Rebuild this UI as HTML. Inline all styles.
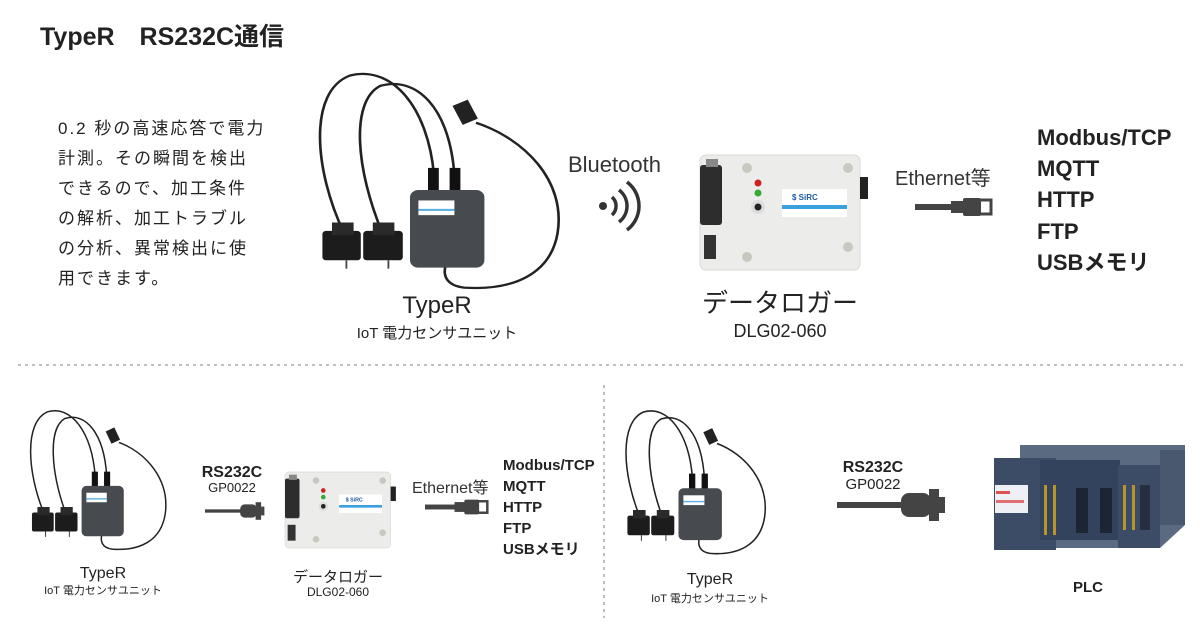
<!DOCTYPE html>
<html><head><meta charset="utf-8"><style>
html,body{margin:0;padding:0;background:#fff}
svg{display:block}
text{font-family:"Liberation Sans","Noto Sans CJK JP",sans-serif;fill:#222}
</style></head><body>
<svg width="1202" height="626" viewBox="0 0 1202 626" xmlns="http://www.w3.org/2000/svg">
<defs>
<g id="typer">
  <path d="M115 105 C110 40 80 0 45 10 C10 25 15 100 40 160" fill="none" stroke="#222" stroke-width="2.2"/>
  <path d="M132 105 C128 40 100 10 70 20 C45 35 50 100 72 160" fill="none" stroke="#222" stroke-width="2.2"/>
  <path d="M150 55 C190 70 225 110 218 160 C212 200 180 215 140 212 C125 210 122 200 125 190" fill="none" stroke="#222" stroke-width="2.2"/>
  <rect x="134" y="35" width="14" height="20" fill="#222" transform="rotate(-25 141 45)"/>
  <rect x="110" y="98" width="9" height="22" fill="#111"/>
  <rect x="128" y="98" width="9" height="22" fill="#111"/>
  <rect x="95" y="119" width="62" height="74" rx="7" fill="#474a4e"/>
  <rect x="102" y="129" width="30" height="14" fill="#fff"/>
  <rect x="102" y="137" width="30" height="2" fill="#5ab0e0"/>
  <rect x="22" y="158" width="32" height="28" rx="3" fill="#1c1c1c"/>
  <rect x="56" y="158" width="33" height="28" rx="3" fill="#1c1c1c"/>
  <rect x="30" y="150" width="18" height="12" fill="#2a2a2a"/>
  <rect x="64" y="150" width="18" height="12" fill="#2a2a2a"/>
  <line x1="42" y1="186" x2="42" y2="194" stroke="#444" stroke-width="1.5"/>
  <line x1="77" y1="186" x2="77" y2="194" stroke="#444" stroke-width="1.5"/>
</g>
<g id="logger">
  <rect x="0" y="0" width="160" height="115" rx="6" fill="#ecedea"/>
  <rect x="0" y="0" width="160" height="115" rx="6" fill="none" stroke="#d8d8d4"/>
  <rect x="0" y="10" width="22" height="60" rx="3" fill="#2d2d2d"/>
  <rect x="6" y="4" width="12" height="8" fill="#888"/>
  <rect x="4" y="80" width="12" height="24" fill="#333"/>
  <rect x="160" y="22" width="8" height="22" fill="#222"/>
  <circle cx="47" cy="13" r="5" fill="#c8c8c0"/><circle cx="148" cy="13" r="5" fill="#c8c8c0"/>
  <circle cx="47" cy="102" r="5" fill="#c8c8c0"/><circle cx="148" cy="92" r="5" fill="#c8c8c0"/>
  <circle cx="58" cy="28" r="3.5" fill="#c22"/><circle cx="58" cy="38" r="3.5" fill="#3a3"/>
  <circle cx="58" cy="52" r="7" fill="#ddd"/><circle cx="58" cy="52" r="3.5" fill="#222"/>
  <rect x="82" y="34" width="65" height="28" fill="#fff"/>
  <rect x="82" y="50" width="65" height="4" fill="#3aa0e0"/>
  <text x="92" y="45" font-size="8" font-weight="bold" style="fill:#1a5aa0">$ SiRC</text>
</g>
<g id="eth">
  <rect x="0" y="-3" width="38" height="6" fill="#444"/>
  <rect x="36" y="-6" width="14" height="12" fill="#444"/>
  <rect x="48" y="-9" width="18" height="18" rx="2" fill="#444"/>
  <rect x="64" y="-7" width="12" height="14" fill="none" stroke="#444" stroke-width="3"/>
</g>
<g id="rs">
  <rect x="0" y="-3" width="65" height="6" fill="#444"/>
  <rect x="64" y="-12" width="30" height="24" rx="8" fill="#444"/>
  <rect x="92" y="-16" width="10" height="32" fill="#444"/>
  <rect x="102" y="-8" width="6" height="16" fill="#444"/>
</g>
</defs>

<text x="40" y="45" font-size="25" font-weight="bold">TypeR　RS232C通信</text>

<g font-size="17" letter-spacing="2">
<text x="58" y="134">0.2 秒の高速応答で電力</text>
<text x="58" y="164">計測。その瞬間を検出</text>
<text x="58" y="194">できるので、加工条件</text>
<text x="58" y="224">の解析、加工トラブル</text>
<text x="58" y="254">の分析、異常検出に使</text>
<text x="58" y="284">用できます。</text>
</g>

<use href="#typer" transform="translate(296 65) scale(1.2 1.05)"/>
<text x="437" y="313" font-size="24" text-anchor="middle">TypeR</text>
<text x="437" y="338" font-size="15" text-anchor="middle">IoT 電力センサユニット</text>

<text x="568" y="172" font-size="22" style="fill:#333">Bluetooth</text>
<circle cx="603" cy="206" r="4" fill="#333"/>
<path d="M612 197 A12 12 0 0 1 612 215" fill="none" stroke="#333" stroke-width="3.5"/>
<path d="M619 190 A20 20 0 0 1 619 222" fill="none" stroke="#333" stroke-width="3.5"/>
<path d="M627 182 A30 30 0 0 1 627 230" fill="none" stroke="#333" stroke-width="3.5"/>

<use href="#logger" transform="translate(700 155)"/>
<text x="780" y="312" font-size="26" text-anchor="middle">データロガー</text>
<text x="780" y="337" font-size="18" text-anchor="middle">DLG02-060</text>

<text x="895" y="185" font-size="20" style="fill:#333">Ethernet等</text>
<use href="#eth" transform="translate(915 207)"/>

<g font-size="22" font-weight="bold">
<text x="1037" y="145">Modbus/TCP</text>
<text x="1037" y="176">MQTT</text>
<text x="1037" y="207">HTTP</text>
<text x="1037" y="239">FTP</text>
<text x="1037" y="270">USBメモリ</text>
</g>

<line x1="18" y1="365" x2="1186" y2="365" stroke="#aaa" stroke-width="1.5" stroke-dasharray="3 4"/>
<line x1="604" y1="385" x2="604" y2="618" stroke="#aaa" stroke-width="1.5" stroke-dasharray="3 4"/>

<use href="#typer" transform="translate(17 405) scale(0.68)"/>
<text x="103" y="578" font-size="16" text-anchor="middle">TypeR</text>
<text x="103" y="594" font-size="11" text-anchor="middle">IoT 電力センサユニット</text>

<text x="232" y="477" font-size="16" font-weight="bold" text-anchor="middle">RS232C</text>
<text x="232" y="492" font-size="13" text-anchor="middle">GP0022</text>
<use href="#rs" transform="translate(205 511) scale(0.55)"/>

<use href="#logger" transform="translate(285 472) scale(0.66)"/>
<text x="338" y="582" font-size="15" text-anchor="middle">データロガー</text>
<text x="338" y="596" font-size="12" text-anchor="middle">DLG02-060</text>

<text x="412" y="493" font-size="16" style="fill:#333">Ethernet等</text>
<use href="#eth" transform="translate(425 507) scale(0.82)"/>

<g font-size="15" font-weight="bold">
<text x="503" y="470">Modbus/TCP</text>
<text x="503" y="491">MQTT</text>
<text x="503" y="512">HTTP</text>
<text x="503" y="533">FTP</text>
<text x="503" y="554">USBメモリ</text>
</g>

<use href="#typer" transform="translate(612 405) scale(0.7)"/>
<text x="710" y="584" font-size="16" text-anchor="middle">TypeR</text>
<text x="710" y="602" font-size="11" text-anchor="middle">IoT 電力センサユニット</text>

<text x="873" y="472" font-size="16" font-weight="bold" text-anchor="middle">RS232C</text>
<text x="873" y="489" font-size="15" text-anchor="middle">GP0022</text>
<use href="#rs" transform="translate(837 505) scale(1.0)"/>

<g>
  <polygon points="1020,445 1185,445 1185,525 1160,548 1020,548" fill="#5a6a80"/>
  <rect x="994" y="458" width="62" height="92" fill="#3d4c66"/>
  <rect x="995" y="485" width="33" height="28" fill="#eef0f5"/>
  <rect x="996" y="491" width="14" height="3" fill="#e05050"/>
  <rect x="996" y="500" width="28" height="3" fill="#e07070"/>
  <rect x="1040" y="460" width="80" height="80" fill="#34435d"/>
  <rect x="1118" y="465" width="42" height="83" fill="#3d4c66"/>
  <rect x="1160" y="450" width="25" height="75" fill="#4a586e"/>
  <rect x="1044" y="485" width="3" height="50" fill="#b8952a"/>
  <rect x="1053" y="485" width="3" height="50" fill="#b8952a"/>
  <rect x="1076" y="488" width="12" height="45" fill="#1d2535"/>
  <rect x="1100" y="488" width="12" height="45" fill="#1d2535"/>
  <rect x="1123" y="485" width="3" height="45" fill="#b8952a"/>
  <rect x="1132" y="485" width="3" height="45" fill="#b8952a"/>
  <rect x="1140" y="485" width="10" height="45" fill="#262f40"/>
</g>
<text x="1088" y="592" font-size="15" font-weight="bold" text-anchor="middle">PLC</text>
</svg>
</body></html>
